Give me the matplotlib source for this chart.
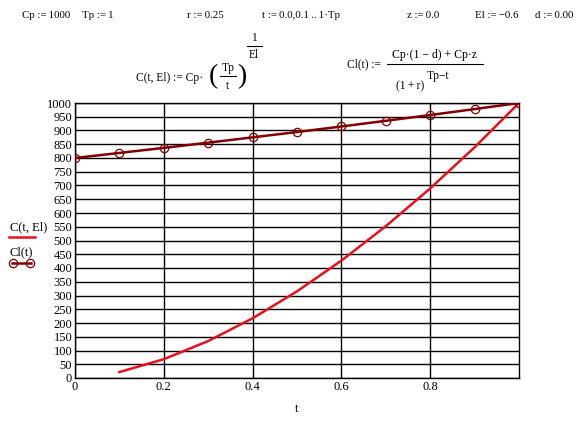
import matplotlib
matplotlib.use('Agg')
import matplotlib.pyplot as plt

plt.rcParams['font.family'] = ['Liberation Serif', 'DejaVu Serif']

# values
t_c = [0.1, 0.2, 0.3, 0.4, 0.5, 0.6, 0.7, 0.8, 0.9, 1.0]
C_vals = [21.5, 68.4, 134.4, 217.1, 315.0, 426.8, 551.9, 689.4, 838.9, 1000.0]
t_cl = [0.0, 0.1, 0.2, 0.3, 0.4, 0.5, 0.6, 0.7, 0.8, 0.9, 1.0]
Cl_vals = [800.0, 818.4, 836.8, 855.8, 875.1, 894.4, 914.6, 935.3, 956.3, 977.9, 1000.0]

yticks = list(range(0, 1001, 50))
xticks = [0, 0.2, 0.4, 0.6, 0.8]
xtick_labels = ['0', '0.2', '0.4', '0.6', '0.8']

W, H = 584, 421
RED = '#e8101c'
MAROON = '#800000'

fig = plt.figure(figsize=(W/100, H/100), dpi=100)
ax = fig.add_axes([75/W, 1 - 378/H, (519-75)/W, (378-103)/H])

ax.plot(t_c, C_vals, color=RED, lw=1.8, zorder=3)
ax.plot(t_cl, Cl_vals, color=MAROON, lw=1.8, marker='o', ms=6,
        mfc='none', mec=MAROON, mew=0.9, zorder=4)

ax.set_xlim(0, 1)
ax.set_ylim(0, 1000)
ax.set_yticks(yticks)
ax.set_xticks(xticks)
ax.set_xticklabels(xtick_labels)
ax.grid(True, color='black', lw=1)
ax.tick_params(length=0, labelsize=9, pad=2)
for s in ax.spines.values():
    s.set_linewidth(1)
ax.set_xlabel('t', fontsize=9, labelpad=7)


def txt(x, y, s, size=8, ha='left', va='center'):
    fig.text(x/W, 1 - y/H, s, fontsize=size, ha=ha, va=va)


def hline(x0, x1, y, color='black', lw=0.8):
    fig.add_artist(plt.Line2D([x0/W, x1/W], [1 - y/H]*2, color=color, lw=lw))


TS = '\u2009'  # thin space, Mathcad sets operators tightly

# legend on the left
txt(10, 227, 'C(t, El)', size=9)
hline(9, 35, 237, RED, 1.8)
txt(10, 252, 'Cl(t)', size=9)
hline(12, 31, 263, MAROON, 1.8)
for xm in [13, 30]:
    fig.add_artist(plt.Line2D([xm/W], [1 - 263/H], marker='o', ms=6, mfc='none',
                              mec=MAROON, mew=0.9, lw=0))

# header definitions
hdr = [(22, 'Cp :=' + TS + '1000'), (82, 'Tp :=' + TS + '1'), (187, 'r :=' + TS + '0.25'),
       (262, 't :=' + TS + '0.0,0.1' + TS + '..' + TS + '1\u00b7Tp'), (407, 'z :=' + TS + '0.0'),
       (475, 'El :=' + TS + '\u22120.6'), (535, 'd :=' + TS + '0.00')]
for x, s in hdr:
    txt(x, 15, s, size=7.8)

# C(t,El) definition
txt(136, 78, 'C(t, El) := Cp\u00b7', size=8.3)
txt(213, 77, '(', size=20, ha='center')
txt(228, 68, 'Tp', size=8.3, ha='center')
hline(220, 236, 76)
txt(228, 86, 't', size=8.3, ha='center')
txt(242, 77, ')', size=20, ha='center')
txt(254, 38, '1', size=8.3, ha='center')
hline(247, 262, 46)
txt(254, 55, 'El', size=8.3, ha='center')

# Cl(t) definition
txt(347, 64, 'Cl(t) :=', size=8.3)
txt(435, 55, 'Cp\u00b7(1 \u2212 d) + Cp\u00b7z', size=8.5, ha='center')
hline(387, 483, 64)
txt(396, 86, '(1' + TS + '+' + TS + 'r)', size=8.3)
txt(427, 76, 'Tp\u2212t', size=8.3)

fig.savefig('out.png', dpi=100)
